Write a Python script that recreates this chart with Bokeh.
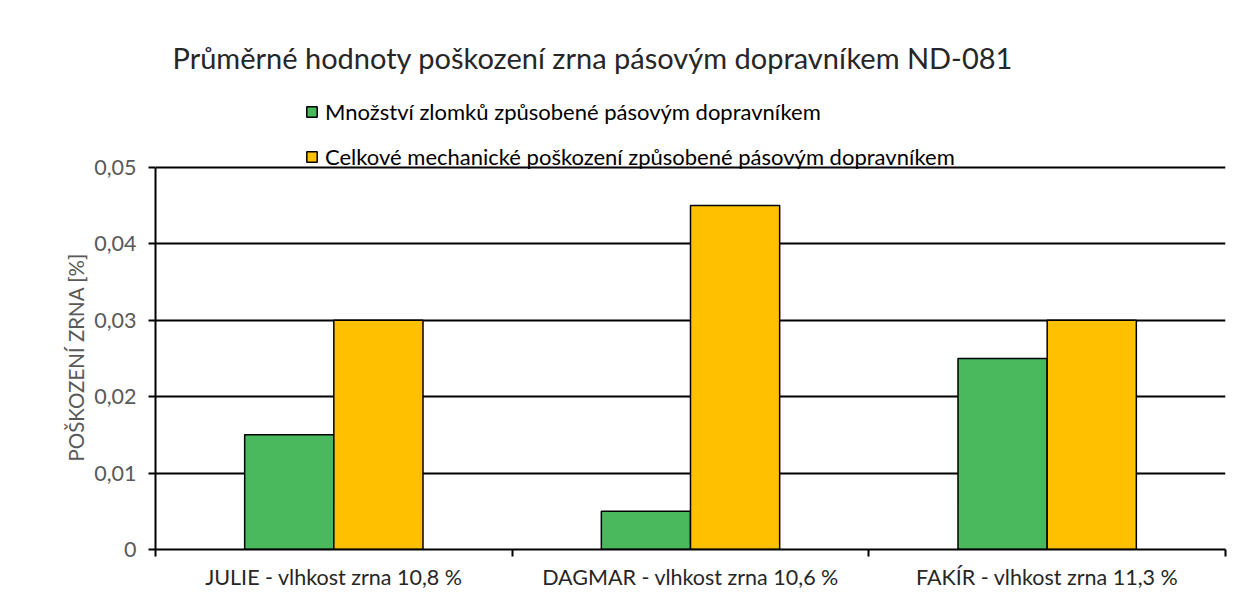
from bokeh.plotting import figure
from bokeh.models import (ColumnDataSource, FixedTicker, Legend, LegendItem,
                          Title, Range1d)
from bokeh.embed import file_html
from bokeh.resources import INLINE

categories = ["JULIE - vlhkost zrna 10,8 %", "DAGMAR - vlhkost zrna 10,6 %",
              "FAKÍR - vlhkost zrna 11,3 %"]
series_names = ["Množství zlomků způsobené pásovým dopravníkem",
                "Celkové mechanické poškození způsobené pásovým dopravníkem"]
zlomky = [0.015, 0.005, 0.025]
celkove = [0.030, 0.045, 0.030]
y_ticks = [0, 0.01, 0.02, 0.03, 0.04, 0.05]
y_tick_labels = ["0", "0,01", "0,02", "0,03", "0,04", "0,05"]
title_text = "Průměrné hodnoty poškození zrna pásovým dopravníkem ND-081"
y_label = "POŠKOZENÍ ZRNA [%]"

FONT = "Lato"
W, H = 1235, 592
# frame extends above the top tick so the legend can sit over the plot
Y_TOP = 0.0590

centers = [i + 0.5 for i in range(len(categories))]
bw = 0.25
src1 = ColumnDataSource(dict(x=[c - bw / 2 for c in centers], top=zlomky))
src2 = ColumnDataSource(dict(x=[c + bw / 2 for c in centers], top=celkove))

p = figure(width=W, height=H, output_backend="svg", toolbar_location=None,
           x_range=Range1d(0, len(categories)), y_range=Range1d(0, Y_TOP),
           min_border_left=155, min_border_right=10, min_border_top=98,
           min_border_bottom=42)
p.outline_line_color = None
p.background_fill_color = "white"
p.border_fill_color = "white"

r1 = p.vbar(x="x", top="top", width=bw, source=src1, fill_color="#4ab85c",
            line_color="black", line_width=1.5)
r2 = p.vbar(x="x", top="top", width=bw, source=src2, fill_color="#ffc000",
            line_color="black", line_width=1.5)

# y axis
ya = p.yaxis[0]
ya.ticker = FixedTicker(ticks=y_ticks)
ya.bounds = (min(y_ticks), max(y_ticks))
ya.major_label_overrides = {t: l for t, l in zip(y_ticks, y_tick_labels)}
ya.major_tick_out = 7
ya.major_tick_in = 0
ya.major_tick_line_color = "black"
ya.major_tick_line_width = 2
ya.minor_tick_line_color = None
ya.axis_line_color = "black"
ya.axis_line_width = 2
ya.major_label_text_font = FONT
ya.major_label_text_font_size = "21.5px"
ya.major_label_text_color = "#595959"
ya.major_label_standoff = 12

# y axis title (placed as a vertical title in the left panel)
p.add_layout(Title(text=y_label, text_font=FONT, text_font_size="20.5px",
                   text_font_style="normal", text_color="#595959",
                   align="left", offset=88, standoff=8), "left")

# x axis
xa = p.xaxis[0]
xa.ticker = FixedTicker(ticks=centers, minor_ticks=list(range(len(categories) + 1)))
xa.major_label_overrides = {c: l for c, l in zip(centers, categories)}
xa.major_tick_line_color = None
xa.minor_tick_out = 7
xa.minor_tick_in = 0
xa.minor_tick_line_color = "black"
xa.minor_tick_line_width = 2
xa.axis_line_color = "black"
xa.axis_line_width = 2
xa.major_label_text_font = FONT
xa.major_label_text_font_size = "21.5px"
xa.major_label_text_color = "#262626"
xa.major_label_standoff = 7

p.xgrid.grid_line_color = None
p.ygrid.ticker = FixedTicker(ticks=y_ticks)
p.ygrid.grid_line_color = "black"
p.ygrid.grid_line_width = 2

legend = Legend(items=[LegendItem(label=series_names[0], renderers=[r1]),
                       LegendItem(label=series_names[1], renderers=[r2])],
                location=(150, 379), orientation="vertical",
                label_text_font=FONT, label_text_font_size="22px",
                label_text_color="black", glyph_width=13, glyph_height=13,
                label_standoff=7, spacing=18, padding=0, margin=0,
                border_line_color=None, background_fill_alpha=0)
p.add_layout(legend, "center")

p.add_layout(Title(text=title_text, text_font=FONT, text_font_size="29px",
                   text_font_style="normal", text_color="#262626",
                   align="left", vertical_align="top", offset=17,
                   standoff=44), "above")

open("out.html", "w").write(file_html(p, INLINE))
